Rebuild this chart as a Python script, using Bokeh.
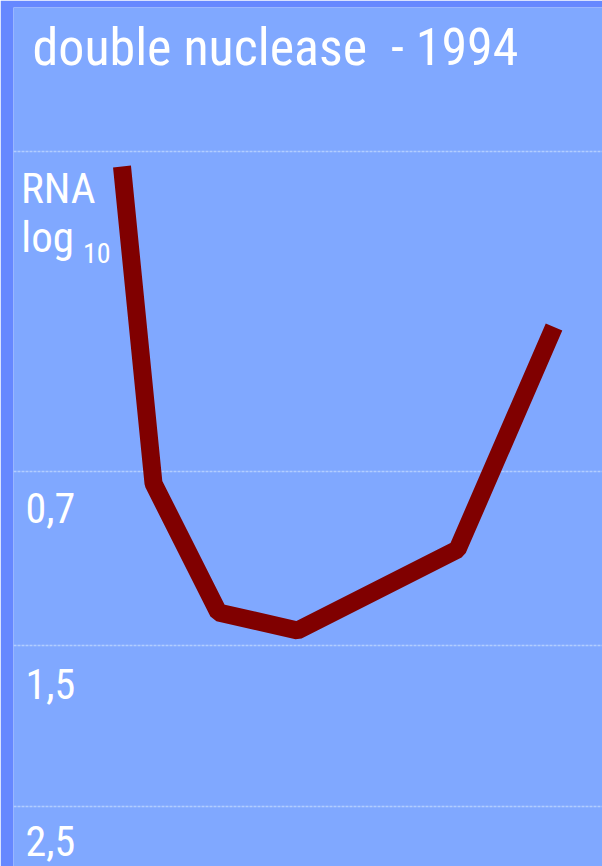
from bokeh.plotting import figure
from bokeh.models import Range1d, FixedTicker, LabelSet, ColumnDataSource
from bokeh.core.properties import value
from bokeh.embed import file_html
from bokeh.resources import INLINE

# ---- data (arbitrary 0-100 plot units) ----
time_x = [18.42, 23.77, 34.80, 48.22, 75.38, 91.77]
rna_y = [18.51, 55.41, 70.43, 72.53, 63.10, 37.19]
grid_levels = [16.71, 53.96, 74.33, 92.96]
tick_labels = ["0,7", "1,5", "2,5"]
title_text = "double nuclease\u00a0 - 1994"
axis_title = "RNA"
axis_sub_main = "log"
axis_sub_index = "10"

# ---- styles ----
LIGHT = "#80a8ff"
DARK = "#6688ff"
LINE = "#800000"
FONT = "'Liberation Sans Narrow', 'Arial Narrow', 'Roboto Condensed', 'Liberation Sans', sans-serif"
label_offsets = [-52, -53, -50]   # screen px below each grid line

p = figure(width=602, height=866, output_backend="svg", toolbar_location=None,
           x_axis_location=None, y_axis_location=None,
           x_range=Range1d(0, 100), y_range=Range1d(100, 0),
           min_border_left=13, min_border_right=0, min_border_top=7, min_border_bottom=0,
           background_fill_color=LIGHT, border_fill_color=DARK,
           outline_line_color=None)

p.xgrid.grid_line_color = None
p.ygrid.ticker = FixedTicker(ticks=grid_levels)
p.ygrid.grid_line_color = "#b2cdff"
p.ygrid.grid_line_width = 1.5
p.ygrid.grid_line_dash = "3 1"

p.line(time_x, rna_y, line_color=LINE, line_width=18,
       line_join="bevel", line_cap="butt")


def add_text(x, y, text, size, y_offset=0):
    src = ColumnDataSource(data=dict(y=[y], text=[text]))
    p.add_layout(LabelSet(x=x, x_units="screen", y="y", y_units="data", text="text",
                          source=src, y_offset=y_offset, text_font=value(FONT),
                          text_font_size=size, text_color="white",
                          text_baseline="alphabetic", text_align="left"))


# title (baseline near the top of the panel)
add_text(19, 6.75, title_text, "52px")

# axis caption in the top band
add_text(7.5, grid_levels[0], axis_title, "43px", -52)
add_text(7.8, grid_levels[0], axis_sub_main, "43px", -101)
add_text(69.5, grid_levels[0], axis_sub_index, "28px", -112)

# tick labels below their grid lines
tick_src = ColumnDataSource(data=dict(y=grid_levels[1:], text=tick_labels, off=label_offsets))
p.add_layout(LabelSet(x=12, x_units="screen", y="y", y_units="data", text="text",
                      source=tick_src, y_offset="off", text_font=value(FONT),
                      text_font_size="42px", text_color="white",
                      text_baseline="alphabetic", text_align="left"))

open("out.html", "w").write(file_html(p, INLINE))
